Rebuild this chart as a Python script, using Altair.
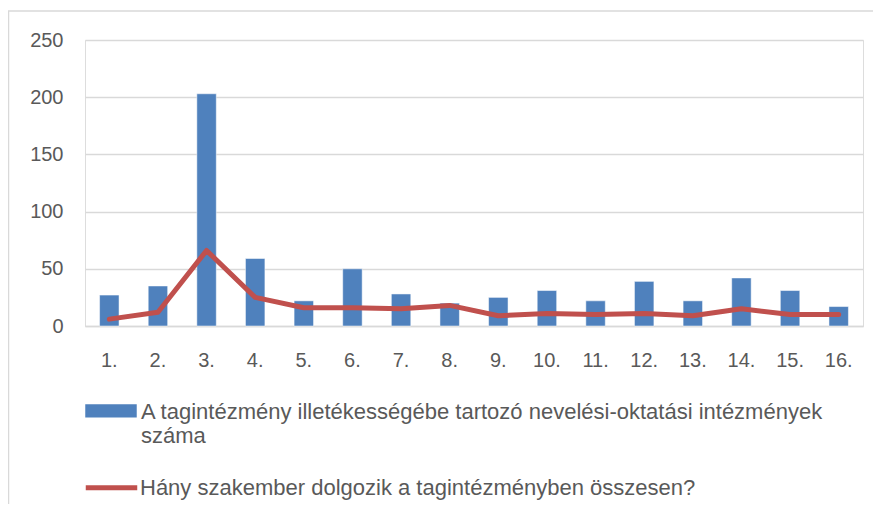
import altair as alt
import pandas as pd

categories = [f"{i}." for i in range(1, 17)]
bar_name = "A tagintézmény illetékességébe tartozó nevelési-oktatási intézmények száma"
line_name = "Hány szakember dolgozik a tagintézményben összesen?"
bar_values = [27, 35, 203, 59, 22, 50, 28, 20, 25, 31, 22, 39, 22, 42, 31, 17]
line_values = [6, 12, 66, 25, 16, 16, 15, 18, 9, 11, 10, 11, 9, 15, 10, 10]
y_ticks = [0, 50, 100, 150, 200, 250]

BLUE = "#4F81BD"
RED = "#C0504D"
TXT = "#595959"
GRID = "#D9D9D9"
FONT = "Liberation Sans"

df = pd.DataFrame({
    "cat": categories,
    "bar": bar_values,
    "line": line_values,
    "bs": [bar_name] * 16,
    "ls": [line_name] * 16,
})

x = alt.X("cat:N", sort=categories, title=None,
          scale=alt.Scale(paddingInner=0.6, paddingOuter=0.3),
          axis=alt.Axis(labelAngle=0, ticks=False, tickSize=0, domain=True,
                        domainColor=GRID, domainWidth=1.5,
                        labelPadding=24, labelFontSize=20, labelColor=TXT,
                        labelFont=FONT, grid=False))

y_axis = alt.Axis(values=y_ticks, ticks=False, tickSize=0, domain=False,
                  gridColor=GRID, gridWidth=1.5, labelPadding=22,
                  labelFontSize=20, labelColor=TXT, labelFont=FONT, title=None)

bars = alt.Chart(df).mark_bar(stroke="white", strokeWidth=0.5).encode(
    x=x,
    y=alt.Y("bar:Q", scale=alt.Scale(domain=[0, 250], nice=False), axis=y_axis),
    fill=alt.Fill("bs:N", scale=alt.Scale(range=[BLUE]),
                  legend=alt.Legend(
                      title=None, orient="none", legendX=0, legendY=352.6,
                      symbolType="M-1,-0.556L1,-0.556L1,-0.04L-1,-0.04Z",
                      symbolSize=2650, symbolStrokeWidth=0,
                      labelFontSize=22, labelFont=FONT, labelColor=TXT,
                      labelLimit=900, padding=0, labelOffset=4,
                      labelBaseline="alphabetic",
                      labelExpr="['A tagintézmény illetékességébe tartozó nevelési-oktatási intézmények', 'száma']",
                  )),
)

line = alt.Chart(df).mark_line(strokeWidth=5, strokeCap="round", strokeJoin="round").encode(
    x=x,
    y=alt.Y("line:Q"),
    stroke=alt.Stroke("ls:N", scale=alt.Scale(range=[RED]),
                      legend=alt.Legend(
                          title=None, orient="none", legendX=-2, legendY=426,
                          symbolType="M-1,-0.26L1,-0.26", symbolSize=2650,
                          symbolStrokeWidth=5,
                          labelFontSize=22, labelFont=FONT, labelColor=TXT,
                          labelLimit=900, padding=0, labelOffset=0,
                          labelBaseline="alphabetic",
                      )),
)

frame_df = pd.DataFrame({"k": [0]})
frame_top = alt.Chart(frame_df).mark_rule(color=GRID, strokeWidth=1.5, clip=False).encode(
    x=alt.value(-77), x2=alt.value(810), y=alt.value(-29)
)
frame_left = alt.Chart(frame_df).mark_rule(color=GRID, strokeWidth=1.5, clip=False).encode(
    x=alt.value(-76.5), y=alt.value(-29), y2=alt.value(480)
)

chart = alt.layer(bars, line, frame_top, frame_left).resolve_scale(
    fill="independent", stroke="independent"
).properties(
    width=778, height=286,
    autosize=alt.AutoSizeParams(type="none"),
    padding={"left": 77, "top": 32, "right": 10, "bottom": 178},
).configure_view(stroke=None).configure(background="white")

chart.save("out.html", embed_options={"renderer": "svg", "actions": False})
